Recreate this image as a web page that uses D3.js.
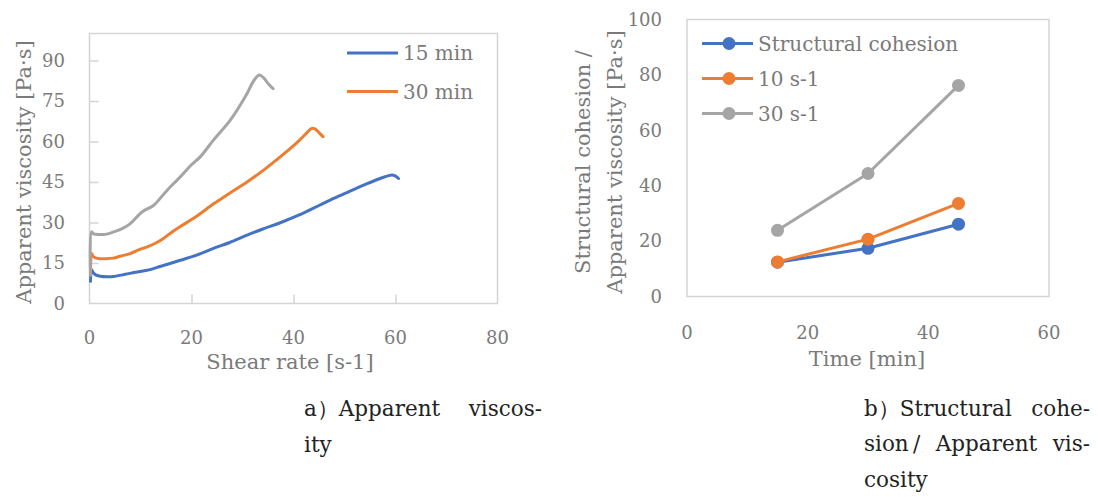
<!DOCTYPE html>
<html><head><meta charset="utf-8">
<script src="https://cdn.jsdelivr.net/npm/d3@7"></script>
<style>
html,body{margin:0;padding:0;background:#fff;}
svg{display:block;}
</style></head>
<body>
<svg id="chart" width="1098" height="497"></svg>
<script>
// ---------- Data: panel a (apparent viscosity vs shear rate) ----------
const shear15 = [0.2, 0.4, 0.7, 1.2, 2.1, 3.5, 4.7, 7, 9, 11.3, 14, 17.8, 21, 24.3, 27.5, 30.9, 34, 37.4, 41, 45, 48, 51, 54, 57, 59.3, 60, 60.6];
const visc15  = [8.2, 12.5, 11.5, 10.6, 10.1, 9.9, 10, 10.8, 11.6, 12.3, 13.8, 16, 17.9, 20.4, 22.6, 25.3, 27.6, 29.9, 32.7, 36.3, 39, 41.5, 44, 46.3, 47.6, 47.2, 46.3];
const shear30 = [0.2, 0.4, 0.7, 1.2, 2, 3, 4.7, 6, 8, 9.5, 11.3, 13, 14.5, 16.2, 17.8, 21, 24.4, 27.6, 30.9, 34.2, 37.4, 39.5, 41.3, 42.6, 43.5, 44.2, 45, 45.8];
const visc30  = [10.5, 18.5, 17.5, 16.9, 16.6, 16.6, 16.8, 17.5, 18.5, 19.8, 21, 22.4, 24.1, 26.5, 28.5, 32.3, 37, 41, 45, 49.5, 54.3, 57.6, 60.7, 63.2, 64.8, 64.7, 63.3, 61.8];
const shear45 = [0.2, 0.4, 0.8, 1.5, 3.1, 4.7, 6.5, 8, 10.3, 12.6, 14.5, 16, 17.8, 19.8, 21.7, 24.3, 27.6, 30.9, 32.2, 33.3, 34.2, 35, 36];
const visc45  = [10.5, 26.5, 25.8, 25.6, 25.6, 26.5, 27.8, 29.6, 33.9, 36.4, 40.4, 43.5, 46.9, 51, 54.3, 60.5, 67.9, 77.8, 82.5, 84.6, 83.5, 81.5, 79.6];
const legendA = ["15 min", "30 min"];
const xTicksA = [0, 20, 40, 60, 80];
const yTicksA = [0, 15, 30, 45, 60, 75, 90];

// ---------- Data: panel b (structural cohesion / apparent viscosity vs time) ----------
const times     = [15, 30, 45];
const cohesion  = [12.4, 17.4, 26.1];
const visc10s   = [12.5, 20.7, 33.6];
const visc30s   = [23.9, 44.4, 76.2];
const legendB   = ["Structural cohesion", "10 s-1", "30 s-1"];
const xTicksB   = [0, 20, 40, 60];
const yTicksB   = [0, 20, 40, 60, 80, 100];

const colors = ["#4472C4", "#ED7D31", "#A5A5A5"];
const FONT = "DejaVu Serif";
const TXT = "#7a7a7a";
const FRAME = "#d4d4d4";
const TICK_FS = 18, TITLE_FS = 21, LEG_FS = 20, CAP_FS = 21.5;

const svg = d3.select("#chart");

// ================= Panel a =================
const A = {x0: 89.5, x1: 497.5, y0: 33.5, y1: 303.5};
const xa = d3.scaleLinear().domain([0, 80]).range([A.x0, A.x1]);
const ya = d3.scaleLinear().domain([0, 100]).range([A.y1, A.y0]);

const ga = svg.append("g");
ga.append("rect").attr("x", A.x0).attr("y", A.y0).attr("width", A.x1 - A.x0).attr("height", A.y1 - A.y0)
  .attr("fill", "none").attr("stroke", FRAME).attr("stroke-width", 1.5);
const yAxA = d3.axisRight(ya).tickValues(yTicksA.filter(d => d > 0)).tickSize(9).tickFormat("");
ga.append("g").attr("transform", `translate(${A.x0},0)`).call(yAxA)
  .call(g => g.select(".domain").remove())
  .call(g => g.selectAll("line").attr("stroke", FRAME).attr("stroke-width", 1.5));
const xAxA = d3.axisTop(xa).tickValues(xTicksA.filter(d => d > 0 && d < 80)).tickSize(9).tickFormat("");
ga.append("g").attr("transform", `translate(0,${A.y1})`).call(xAxA)
  .call(g => g.select(".domain").remove())
  .call(g => g.selectAll("line").attr("stroke", FRAME).attr("stroke-width", 1.5));
ga.selectAll(".ytl").data(yTicksA).enter().append("text")
  .attr("x", 65).attr("y", d => ya(d)).attr("dy", "0.35em").attr("text-anchor", "end")
  .attr("font-family", FONT).attr("font-size", TICK_FS).attr("fill", TXT).text(d => d);
ga.selectAll(".xtl").data(xTicksA).enter().append("text")
  .attr("x", d => xa(d)).attr("y", 338).attr("dy", "0.35em").attr("text-anchor", "middle")
  .attr("font-family", FONT).attr("font-size", TICK_FS).attr("fill", TXT).text(d => d);
ga.append("text").attr("transform", "translate(24,172) rotate(-90)").attr("dy", "0.35em")
  .attr("text-anchor", "middle").attr("font-family", FONT).attr("font-size", TITLE_FS).attr("fill", TXT)
  .text("Apparent viscosity [Pa·s]");
ga.append("text").attr("x", 290).attr("y", 362).attr("dy", "0.35em").attr("text-anchor", "middle")
  .attr("font-family", FONT).attr("font-size", TITLE_FS).attr("fill", TXT).text("Shear rate [s-1]");
const seriesA = [[shear15, visc15], [shear30, visc30], [shear45, visc45]];
const lineA = d3.line().x(d => xa(d[0])).y(d => ya(d[1])).curve(d3.curveCatmullRom.alpha(0.5));
seriesA.forEach((s, i) => {
  const pts = s[0].map((x, j) => [x, s[1][j]]);
  ga.append("path").attr("d", lineA(pts)).attr("fill", "none").attr("stroke", colors[i])
    .attr("stroke-width", 3).attr("stroke-linejoin", "round").attr("stroke-linecap", "round");
});
legendA.forEach((t, i) => {
  const y = 53 + i * 38.5;
  ga.append("line").attr("x1", 347).attr("x2", 398).attr("y1", y).attr("y2", y)
    .attr("stroke", colors[i]).attr("stroke-width", 3);
  ga.append("text").attr("x", 403).attr("y", y).attr("dy", "0.35em")
    .attr("font-family", FONT).attr("font-size", LEG_FS).attr("fill", TXT).text(t);
});

// ================= Panel b =================
const B = {x0: 687, x1: 1049, y0: 19.5, y1: 296.5};
const xb = d3.scaleLinear().domain([0, 60]).range([B.x0, B.x1]);
const yb = d3.scaleLinear().domain([0, 100]).range([B.y1, B.y0]);
const gb = svg.append("g");
gb.append("rect").attr("x", B.x0).attr("y", B.y0).attr("width", B.x1 - B.x0).attr("height", B.y1 - B.y0)
  .attr("fill", "none").attr("stroke", FRAME).attr("stroke-width", 1.5);
gb.selectAll(".ytl").data(yTicksB).enter().append("text")
  .attr("x", 662).attr("y", d => yb(d)).attr("dy", "0.35em").attr("text-anchor", "end")
  .attr("font-family", FONT).attr("font-size", TICK_FS).attr("fill", TXT).text(d => d);
gb.selectAll(".xtl").data(xTicksB).enter().append("text")
  .attr("x", d => xb(d)).attr("y", 333).attr("dy", "0.35em").attr("text-anchor", "middle")
  .attr("font-family", FONT).attr("font-size", TICK_FS).attr("fill", TXT).text(d => d);
gb.append("text").attr("transform", "translate(583,162) rotate(-90)").attr("dy", "0.35em")
  .attr("text-anchor", "middle").attr("font-family", FONT).attr("font-size", TITLE_FS).attr("fill", TXT)
  .text("Structural cohesion /");
gb.append("text").attr("transform", "translate(615,162) rotate(-90)").attr("dy", "0.35em")
  .attr("text-anchor", "middle").attr("font-family", FONT).attr("font-size", TITLE_FS).attr("fill", TXT)
  .text("Apparent viscosity [Pa·s]");
gb.append("text").attr("x", 867).attr("y", 359).attr("dy", "0.35em").attr("text-anchor", "middle")
  .attr("font-family", FONT).attr("font-size", TITLE_FS).attr("fill", TXT).text("Time [min]");

const seriesB = [cohesion, visc10s, visc30s];
const lineB = d3.line().x(d => xb(d[0])).y(d => yb(d[1]));
seriesB.forEach((vals, i) => {
  const pts = times.map((t, j) => [t, vals[j]]);
  gb.append("path").attr("d", lineB(pts)).attr("fill", "none").attr("stroke", colors[i])
    .attr("stroke-width", 3).attr("stroke-linejoin", "round");
  gb.selectAll(".m" + i).data(pts).enter().append("circle")
    .attr("cx", d => xb(d[0])).attr("cy", d => yb(d[1])).attr("r", 6.5).attr("fill", colors[i]);
});
legendB.forEach((t, i) => {
  const y = 43.5 + i * 35;
  gb.append("line").attr("x1", 702).attr("x2", 753).attr("y1", y).attr("y2", y)
    .attr("stroke", colors[i]).attr("stroke-width", 3);
  gb.append("circle").attr("cx", 729).attr("cy", y).attr("r", 6.5).attr("fill", colors[i]);
  gb.append("text").attr("x", 758).attr("y", y).attr("dy", "0.35em")
    .attr("font-family", FONT).attr("font-size", LEG_FS).attr("fill", TXT).text(t);
});

// ================= Captions (justified) =================
function justified(x, y, width, txt, justify) {
  const t = svg.append("text").attr("x", x).attr("y", y)
    .attr("font-family", FONT).attr("font-size", CAP_FS).attr("fill", "#222").text(txt);
  if (justify) {
    const w = t.node().getComputedTextLength();
    const gaps = (txt.match(/ /g) || []).length;
    if (gaps > 0) t.attr("word-spacing", Math.max(0, (width - w) / gaps));
  }
}
justified(304, 416, 238, "a）Apparent viscos-", true);
justified(304, 452, 238, "ity", false);
justified(864, 416, 226, "b）Structural cohe-", true);
justified(864, 451, 226, "sion\u2009/ Apparent vis-", true);
justified(864, 486.5, 226, "cosity", false);
</script>
</body></html>
